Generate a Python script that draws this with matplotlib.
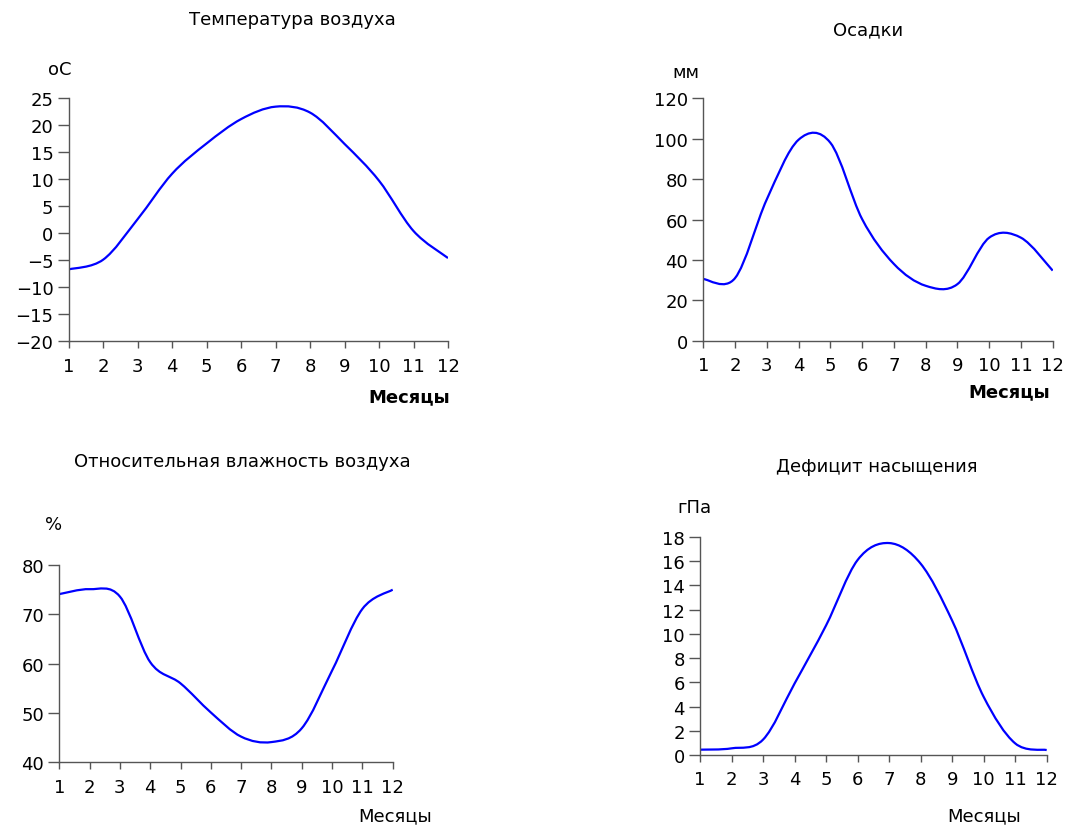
import matplotlib
matplotlib.use('Agg')
import matplotlib.pyplot as plt
from matplotlib.path import Path
from matplotlib.patches import PathPatch

plt.rcParams['font.family'] = ['DejaVu Sans']

# data
months = [1, 2, 3, 4, 5, 6, 7, 8, 9, 10, 11, 12]
temperature = [-6.7, -4.9, 2.6, 11.0, 16.6, 21.1, 23.4, 22.3, 16.5, 9.7, 0.4, -4.6]
precipitation = [30.5, 31.0, 70, 99.5, 98.0, 60.2, 38, 27.2, 28, 51, 51, 34.7]
humidity = [74.1, 75.1, 73.6, 60.3, 56, 50.1, 45.2, 44.1, 46.9, 58.6, 71.1, 75]
deficit = [0.44, 0.55, 1.27, 5.9, 10.7, 16.1, 17.5, 15.8, 11.1, 4.8, 0.96, 0.41]

W, H = 1067, 828
fig = plt.figure(figsize=(W / 100, H / 100), dpi=100)


def px(x, y):
    # pixel position -> figure fraction
    return x / W, 1 - y / H


def smooth_line(ax, xs, ys):
    # smoothed line like the spreadsheet one (catmull-rom bezier)
    pts = list(zip(xs, ys))
    verts = [pts[0]]
    codes = [Path.MOVETO]
    n = len(pts)
    for i in range(n - 1):
        p0 = pts[max(i - 1, 0)]
        p1 = pts[i]
        p2 = pts[i + 1]
        p3 = pts[min(i + 2, n - 1)]
        c1 = (p1[0] + (p2[0] - p0[0]) / 6, p1[1] + (p2[1] - p0[1]) / 6)
        c2 = (p2[0] - (p3[0] - p1[0]) / 6, p2[1] - (p3[1] - p1[1]) / 6)
        verts += [c1, c2, p2]
        codes += [Path.CURVE4] * 3
    ax.add_patch(PathPatch(Path(verts, codes), fill=False, edgecolor='#0000FF', lw=1.6))


fs = 13


def panel(rect, ys, ylim, yticks):
    ax = fig.add_axes(rect)
    smooth_line(ax, months, ys)
    ax.set_xlim(1, 12)
    ax.set_ylim(*ylim)
    ax.set_xticks(months)
    ax.set_yticks(yticks)
    for s in ['top', 'right']:
        ax.spines[s].set_visible(False)
    for s in ['left', 'bottom']:
        ax.spines[s].set_color('#555555')
        ax.spines[s].set_linewidth(1.0)
    ax.tick_params(axis='y', length=8, width=1, color='#555555', labelsize=fs, pad=3)
    ax.tick_params(axis='x', length=5, width=1, color='#555555', labelsize=fs, pad=6)
    return ax


def l2f(l, t, r, b):
    return [l / W, 1 - b / H, (r - l) / W, (b - t) / H]


panel(l2f(68.7, 99, 448, 342.3), temperature, (-20, 25), range(-20, 26, 5))
panel(l2f(703.3, 99.3, 1052.7, 341.7), precipitation, (0, 120), range(0, 121, 20))
panel(l2f(59.3, 566, 392.7, 763.3), humidity, (40, 80), range(40, 81, 10))
panel(l2f(700, 538, 1046.7, 756), deficit, (0, 18), range(0, 19, 2))

# titles
fig.text(*px(292, 20), 'Температура воздуха', ha='center', va='center', fontsize=fs)
fig.text(*px(868, 30), 'Осадки', ha='center', va='center', fontsize=fs)
fig.text(*px(242, 462), 'Относительная влажность воздуха', ha='center', va='center', fontsize=fs)
fig.text(*px(877, 467), 'Дефицит насыщения', ha='center', va='center', fontsize=fs)

# units
fig.text(*px(48, 70), 'oC', ha='left', va='center', fontsize=fs)
fig.text(*px(672, 73), 'мм', ha='left', va='center', fontsize=fs)
fig.text(*px(45, 525), '%', ha='left', va='center', fontsize=fs)
fig.text(*px(677, 508), 'гПа', ha='left', va='center', fontsize=fs)

# x labels
fig.text(*px(450, 397), 'Месяцы', ha='right', va='center', fontsize=fs, fontweight='bold')
fig.text(*px(1050, 392), 'Месяцы', ha='right', va='center', fontsize=fs, fontweight='bold')
fig.text(*px(358, 816), 'Месяцы', ha='left', va='center', fontsize=fs)
fig.text(*px(947, 816), 'Месяцы', ha='left', va='center', fontsize=fs)

fig.savefig('out.png', dpi=100)
